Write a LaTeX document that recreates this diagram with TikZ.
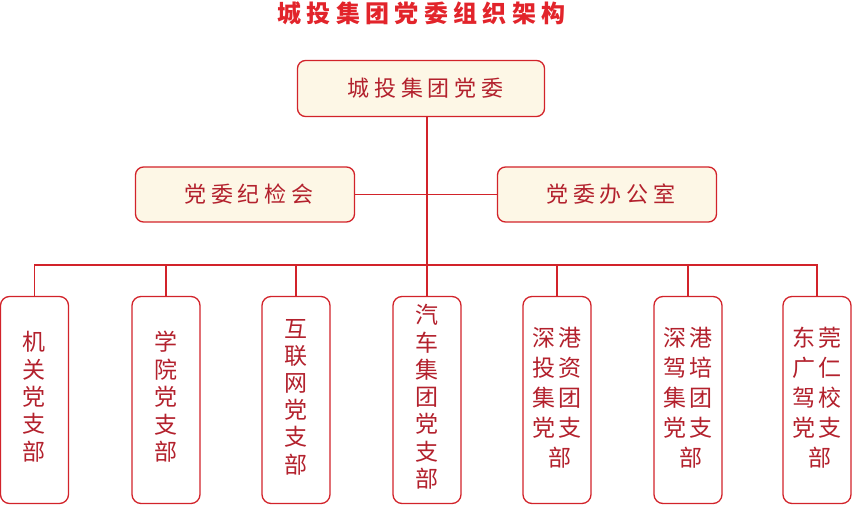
\documentclass[tikz,border=0pt]{standalone}
\usepackage{fontspec}
\setmainfont{Noto Sans CJK SC}
\definecolor{lred}{HTML}{D2232A}
\definecolor{tred}{HTML}{B3212D}
\definecolor{titlered}{HTML}{E2242B}
\definecolor{cream}{HTML}{FDF7E6}
\newcommand\gp{\kern4.7pt}
\newcommand\gt{\kern5.3pt}
\newcommand\gc{\kern4pt}
\newcommand\vt[1]{\raisebox{7pt}{\begin{tabular}{@{}c@{}}#1\end{tabular}}}
\tikzset{
  conn/.style={draw=lred, line width=1.3pt},
  headbox/.style={draw=lred, fill=cream, rounded corners=8pt, line width=1.3pt,
    text=tred, inner sep=0pt, font=\fontsize{22}{22}\selectfont},
  leaf/.style={draw=lred, fill=white, rounded corners=9pt, line width=1.3pt,
    minimum width=68pt, minimum height=207pt, inner sep=0pt,
    text=tred},
  onecol/.style={leaf, font=\fontsize{23}{26.7}\selectfont},
  twocol/.style={leaf, font=\fontsize{23}{30}\selectfont},
}
\begin{document}
\begin{tikzpicture}[x=1pt,y=-1pt]
\useasboundingbox (0,0) rectangle (852,505);
\node[text=titlered, font=\fontsize{24}{24}\selectfont\bfseries] (title) at (421.5,13.5)
  {城\gt 投\gt 集\gt 团\gt 党\gt 委\gt 组\gt 织\gt 架\gt 构};
\node[headbox, minimum width=247pt, minimum height=56pt] (top) at (421,88.5)
  {\kern9pt 城\gp 投\gp 集\gp 团\gp 党\gp 委};
\node[headbox, minimum width=219pt, minimum height=55pt] (jjw) at (245,194.5)
  {\kern8pt 党\gp 委\gp 纪\gp 检\gp 会};
\node[headbox, minimum width=219pt, minimum height=55pt] (bgs) at (607,194.5)
  {\kern8pt 党\gp 委\gp 办\gp 公\gp 室};
\node[onecol] (b1) at (34.5,400) {\vt{机\\关\\党\\支\\部}};
\node[onecol] (b2) at (166,400) {\vt{学\\院\\党\\支\\部}};
\node[onecol] (b3) at (296,400) {\vt{互\\联\\网\\党\\支\\部}};
\node[onecol] (b4) at (427,400) {\vt{汽\\车\\集\\团\\党\\支\\部}};
\node[twocol] (b5) at (557,400) {\vt{深\gc 港\\投\gc 资\\集\gc 团\\党\gc 支\\\hspace*{6pt}部}};
\node[twocol] (b6) at (688,400) {\vt{深\gc 港\\驾\gc 培\\集\gc 团\\党\gc 支\\\hspace*{6pt}部}};
\node[twocol] (b7) at (817,400) {\vt{东\gc 莞\\广\gc 仁\\驾\gc 校\\党\gc 支\\\hspace*{6pt}部}};
\coordinate (bus) at (427,265);
\draw[conn] (top.south -| b4.north) -- (b4.north);
\draw[conn] (jjw.east) -- (bgs.west);
\draw[conn] (b1.north) |- (bus) -| (b7.north);
\foreach \b in {b2,b3,b5,b6} {
  \draw[conn] (\b.north) -- (\b.north |- bus);
}
\end{tikzpicture}
\end{document}
